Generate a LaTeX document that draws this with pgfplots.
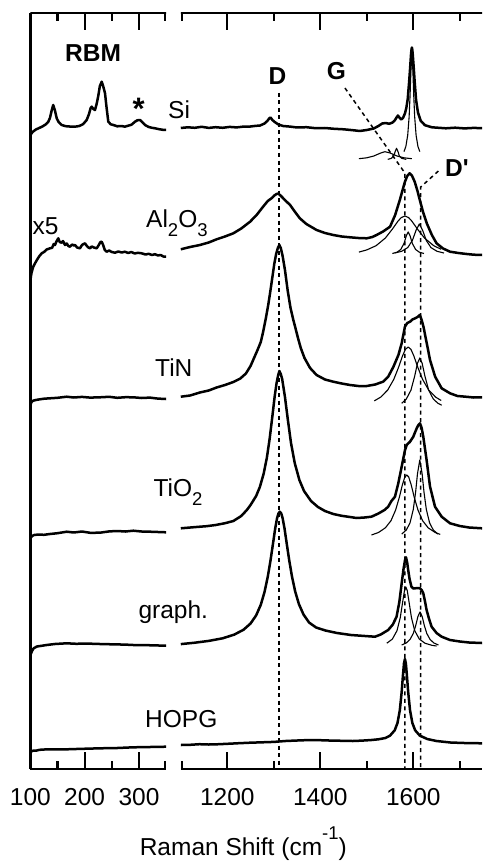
\documentclass[border=0pt]{standalone}
\usepackage{pgfplots}
\pgfplotsset{compat=1.18}
\usepackage{fontspec}
\setmainfont{Liberation Sans}
\newcommand\lab{\fontsize{24.5}{29}\selectfont}
\newcommand\subs[1]{\raisebox{-9pt}{\fontsize{18.5}{20}\selectfont #1}}
\pgfplotsset{
 spec/.style={black, line width=2.5pt, line join=round, mark=none},
 fitc/.style={black, line width=1.1pt, line join=round, mark=none},
 dsh/.style={black, line width=1.5pt, dash pattern=on 4pt off 3.5pt, mark=none},
 panel/.style={scale only axis, height=756pt, y dir=reverse, ymin=13, ymax=769,
   clip=false, hide y axis,
   axis line style={line width=2.4pt},
   major tick length=0pt, minor tick length=0pt,
   xticklabel style={font=\lab, anchor=base, yshift=-36pt}},
}
\begin{document}
\begin{tikzpicture}
\useasboundingbox (-30.4pt,-92pt) rectangle (451.6pt,769pt);
% ---------------- left panel (RBM) ----------------
\begin{axis}[panel, at={(0pt,0pt)}, anchor=south west, width=135.7pt,
  xmin=100, xmax=350,
  xtick={100,200,300}, xticklabels={100,200,300}]
\draw[line width=2.4pt] (rel axis cs:0,0) -- (rel axis cs:0,1);
% Si
\addplot[spec] coordinates {(100,135) (104,132) (110,129.5) (115,128.3) (122,126.5) (128,124.5) (133,121.7) (136,118) (139,111) (142,105) (145,110) (148.5,118.3) (152,122) (157.7,125) (165,126.2) (172,126.5) (182,126.7) (190,126) (197,124.2) (203.7,120) (208,114) (211,108) (213,106.7) (216,109) (219,110) (222,104) (225,96) (228,86) (231.4,81.7) (234,86) (237.5,93.3) (240,106) (243.5,121.7) (248,124.3) (252.8,125) (260,126.3) (268,126) (274,126.7) (280,125.7) (286,124.8) (292.7,121.7) (297,120.3) (302,120) (306,122) (311.2,125) (318,127) (324,127.8) (329.6,128.3) (337,129.2) (344,129.8) (350,130)};
% Al2O3 (x5)
\addplot[spec] coordinates {(100,280) (102,273) (105,267) (108.5,263.3) (112,260) (116,256.5) (120.8,253.3) (125,252) (130,249.5) (136,248.3) (140,247.8) (143,244) (145.3,245) (148,241.5) (151.4,238.3) (154,242) (157.7,242.7) (160,241) (163.8,245) (167,243.5) (170,246) (173,246.7) (177,244.5) (180,245.5) (182.2,245) (186,247.5) (191.4,248.3) (195,245) (198,244) (200.6,243.3) (204,246) (207,247.5) (209.8,248.3) (213,246.5) (217,247.5) (222.2,248.3) (226,245) (229,242) (231.4,241.7) (234,245) (237,250) (240.6,251.7) (245,250.5) (250,252) (255.9,252.7) (262,251.5) (268,252.5) (274.3,251.7) (280,253) (286,252) (292,253.5) (298,252.8) (305,253.3) (312,254.5) (318,253.8) (324,255) (329.6,254.2) (335,255.5) (340,255) (345,256.5) (350,256.7)};
% TiN
\addplot[spec] coordinates {(100,405) (102,402) (105,400.7) (110,400) (117.7,399.3) (125,398.7) (136,398.3) (150,397.8) (166.9,396.7) (180,397.5) (195,396.9) (210,397.6) (228,397.3) (245,396.8) (260,397.8) (275,397.2) (289.6,397.3) (305,398) (320,397.6) (335,398.6) (350,399)};
% TiO2
\addplot[spec] coordinates {(100,538.3) (103,536) (107,535) (115,534.5) (125,534.8) (136,534) (150,533.2) (166.9,531.7) (180,532.5) (195,531.5) (210,532.8) (228,532.7) (245,531.4) (260,531) (275,531.5) (289.6,530.7) (305,531.5) (320,531.7) (335,532) (350,532.3)};
% graph.
\addplot[spec] coordinates {(100,655) (103,651) (106,648.3) (112,646.5) (118,646) (130,645) (145,644) (166.9,643.3) (185,643.8) (200,643.5) (228,644) (250,644.3) (275,644.6) (289.6,645) (310,645.1) (330,645.4) (350,645.7)};
% HOPG
\addplot[spec] coordinates {(100,753.3) (102,751) (105,750.7) (110,750.7) (117,749.8) (125,749.5) (140,749.3) (166.9,749.3) (190,748.9) (228,748.3) (260,748) (289.6,747.3) (320,747) (350,746.7)};
\end{axis}
% ---------------- right panel (D, G) ----------------
\begin{axis}[panel, at={(150.4pt,0pt)}, anchor=south west, width=301.3pt,
  xmin=1100, xmax=1748,
  xtick={1200,1400,1600}, xticklabels={1200,1400,1600}]
% dashed guide lines
\addplot[dsh] coordinates {(1311,93) (1311,769)};
\addplot[dsh] coordinates {(1453,88) (1582,173) (1582,769)};
\addplot[dsh] coordinates {(1654,171) (1616,187) (1616,769)};
% Si
\addplot[spec] coordinates {(1100,128) (1115,127.3) (1130,127.8) (1145,126.8) (1160,127.9) (1175,127.2) (1190,127.8) (1205,126.9) (1220,127.4) (1235,126.6) (1250,126.5) (1262,125.8) (1270,125.6) (1280,123.5) (1286,121) (1290,118.5) (1293,117.5) (1297,120) (1302,122) (1310,124.5) (1320,126) (1335,126.6) (1350,127.5) (1370,127.2) (1390,128.2) (1410,128) (1430,128.8) (1450,129.3) (1470,130.2) (1485,131) (1500,130) (1515,128.5) (1525,126) (1533,123.5) (1541,123) (1548,123.8) (1555,122.6) (1560,120.5) (1564,117.5) (1567,115.5) (1570,117.5) (1574,119.5) (1578,117.8) (1582,113.5) (1585,108) (1588,99) (1591,82) (1593,69) (1595,55) (1596,50) (1597,47.5) (1598,50) (1599,55.5) (1601,68) (1603,82) (1606,100) (1610,112.4) (1616,120.8) (1625,125.2) (1640,127.3) (1655,127.8) (1670,128.3) (1690,127.7) (1710,128.4) (1730,127.9) (1748,128.2)};
\addplot[fitc] coordinates {(1483,158.7) (1500,157.8) (1515,156) (1530,153) (1539,151.7) (1550,153) (1565,156) (1580,157.8) (1597,158.7)};
\addplot[fitc] coordinates {(1545,159.4) (1553,158.3) (1558,155.9) (1561,151.5) (1564,148.3) (1567,151.5) (1570,155.9) (1575,158.3) (1585,159.4)};
\addplot[fitc] coordinates {(1580,151.6) (1584,146.5) (1588,135.2) (1591,117) (1593,96) (1595,69.5) (1597,55) (1599,69.5) (1601,96) (1603,117) (1606,135.2) (1610,146.5) (1614,151.6)};
% Al2O3
\addplot[spec] coordinates {(1100,249.3) (1120,247) (1141,245) (1160,242.5) (1177,239.3) (1195,236.5) (1213,233.3) (1230,228.5) (1249,221.7) (1263,215) (1277,206.7) (1287,201) (1295,198.3) (1301,195.5) (1306,194) (1310,193.5) (1317,196.7) (1325,200.5) (1335,205) (1345,211.5) (1356,218.3) (1370,224) (1392,230) (1410,233) (1428,235) (1446,236.5) (1464,237.3) (1482,238) (1500,238.3) (1512,237) (1521,235) (1535,231.5) (1550,226.7) (1561,215) (1571,200) (1577,190) (1582,181.7) (1587,176) (1592,173.3) (1597,175.5) (1603,181.7) (1609,191) (1614,200) (1621,212) (1629,223.3) (1640,235) (1650,243.3) (1664,248.5) (1679,251.7) (1697,253) (1715,254) (1730,254.7) (1748,255)};
\addplot[fitc] coordinates {(1483,252.1) (1500,249.9) (1520,245.7) (1540,238) (1555,229.1) (1567,221.2) (1574,217.6) (1582,216) (1590,217.6) (1597,221.2) (1609,229.1) (1624,238) (1644,245.7) (1660,249.3)};
\addplot[fitc] coordinates {(1555,253.5) (1565,252.2) (1573,249.5) (1580,243.5) (1585,235.8) (1589,232) (1593,235.8) (1598,243.5) (1605,249.5) (1613,252.2) (1623,253.5)};
\addplot[fitc] coordinates {(1560,253) (1575,251.3) (1588,247.6) (1598,240.5) (1606,230.2) (1613,224) (1620,230.2) (1628,240.5) (1638,247.6) (1651,251.3) (1666,253)};
% TiN
\addplot[spec] coordinates {(1100,396.7) (1120,395.5) (1141,392.5) (1160,390.5) (1177,387.5) (1195,385) (1213,382) (1228,378.5) (1240,373.5) (1250,366) (1257,358.5) (1265,350) (1272,342) (1277,332) (1283,318) (1288,305) (1292,293) (1297,277) (1301,264) (1305,254) (1309,247.5) (1312,245) (1315,248) (1319,256) (1324,270) (1330,291) (1336,308) (1342,320) (1346,327) (1352,338) (1358,348) (1366,358) (1378,368) (1392,375) (1410,379.5) (1428,381.7) (1446,383.5) (1464,385) (1482,386) (1500,386) (1518,384.5) (1535,381.7) (1546,376.7) (1557,367) (1568,355) (1575,343.3) (1582,326.7) (1587,323) (1593,321.7) (1598,319.5) (1604,318.3) (1609,317) (1614,315) (1618,320) (1622,327) (1629,343.3) (1636,360) (1647,376.7) (1661,388.3) (1679,393.3) (1695,396) (1715,396.8) (1730,397.5) (1748,397.3)};
\addplot[fitc] coordinates {(1516,400.9) (1530,397.1) (1545,390) (1558,379.4) (1568,367.7) (1577,355.7) (1583,349.4) (1589,347) (1595,349.4) (1601,355.7) (1610,367.7) (1620,379.4) (1633,390) (1648,397.1) (1660,400.5)};
\addplot[fitc] coordinates {(1575,403.3) (1585,399) (1595,390.1) (1603,376.1) (1609,363.2) (1614,358) (1619,363.2) (1625,376.1) (1633,390.1) (1643,399) (1653,403.3) (1661,405.2)};
% TiO2
\addplot[spec] coordinates {(1100,528.3) (1118,527.6) (1136,526.9) (1155,526.2) (1175,525) (1195,523.2) (1213,521) (1230,516) (1242,510) (1250,505) (1262,496) (1270,487) (1278,474) (1285,458) (1291,439) (1297,416) (1302,396) (1306,383) (1309,376) (1312,371) (1315,374) (1318,379) (1324,397) (1330,419) (1337,443) (1345,463) (1355,480) (1365,491) (1380,501) (1395,507) (1410,511) (1428,514) (1446,515.8) (1464,517) (1478,518) (1495,517.5) (1510,516.7) (1525,513.5) (1538,510) (1546,506.7) (1553,501) (1560.6,496.7) (1567.7,483.3) (1575,466.7) (1582.2,450) (1585.8,445) (1593,441.7) (1600,436.7) (1607.3,428.3) (1611,425) (1614.4,423.3) (1618,428) (1621.5,436.7) (1628.6,460) (1636,486.7) (1646.7,506.7) (1661,516.7) (1679,523.3) (1700,526) (1720,527.5) (1748,528.3)};
\addplot[fitc] coordinates {(1510,535) (1525,532.5) (1540,527.8) (1552,520.7) (1562,510) (1570,497.2) (1577,484) (1582,476.9) (1586,475) (1590,476.9) (1595,484) (1602,497.2) (1610,510) (1620,520.7) (1632,527.8) (1647,532.5) (1658,534.4)};
\addplot[fitc] coordinates {(1575,534.1) (1585,530) (1593,522.8) (1600,509.4) (1605,492.1) (1609,473.7) (1614,460) (1619,473.7) (1623,492.1) (1628,509.4) (1635,522.8) (1643,530) (1653,534.1)};
% graph.
\addplot[spec] coordinates {(1100,644.1) (1130,642.7) (1160,640.9) (1190,638.3) (1215,634.6) (1235,629.7) (1250,623.5) (1262,615.4) (1272,604.8) (1280,592.1) (1287,576.8) (1293,560.2) (1298,544.5) (1303,528.5) (1307,518.3) (1310,513.5) (1313,511.7) (1316,513.4) (1319,518.2) (1323,528.3) (1328,544.2) (1333,559.8) (1339,576.3) (1346,591.5) (1354,604.1) (1364,614.6) (1376,622.6) (1391,627.5) (1411,630.5) (1436,633) (1466,635) (1496,636) (1517.6,636.7) (1530,634.5) (1546,630) (1556,624.5) (1564,616.7) (1570,602) (1575,583.3) (1579,569) (1582.2,560) (1584.3,557.3) (1587,563) (1589,570) (1592,579) (1596,586.7) (1600,588.5) (1604,588.3) (1609,588) (1614.4,588.3) (1618,590) (1621.5,593.3) (1625,601) (1628.6,610) (1634,619) (1639.4,626.7) (1650,633) (1661,636.7) (1679,640) (1700,641.5) (1720,642.5) (1748,643)};
\addplot[fitc] coordinates {(1543,643.2) (1555,639.1) (1565,630.6) (1572,617.5) (1577,602.4) (1581,590.6) (1584,587) (1587,590.6) (1591,602.4) (1596,617.5) (1603,630.6) (1613,639.1) (1625,643.2) (1640,645.3) (1650,646)};
\addplot[fitc] coordinates {(1575,645) (1585,642.9) (1593,639.4) (1600,633.4) (1605,625.9) (1610,616.4) (1614.5,612) (1619,616.4) (1624,625.9) (1629,633.4) (1636,639.4) (1644,642.9) (1654,645)};
% HOPG
\addplot[spec] coordinates {(1100,745) (1120,744.8) (1140,744.2) (1160,744.5) (1177,744.3) (1200,743.8) (1225,743.2) (1249,742.7) (1275,742.3) (1300,741.9) (1325,741) (1350,740.5) (1378,740) (1400,740.2) (1425,740.6) (1450,740.8) (1470,741) (1490,740.6) (1510,740) (1525,739.3) (1540,738) (1550,735.6) (1560,730.3) (1566,723) (1571,710.3) (1575,692) (1578,673.9) (1580,663.3) (1582,659) (1584,663.3) (1586,673.9) (1589,692) (1593,710.3) (1598,723) (1604,730.3) (1614,735.6) (1630,739) (1650,741) (1680,742.5) (1710,743) (1748,743.3)};
\end{axis}
% ---------------- ticks (plain tikz, picture coordinates in pt; origin = lower left of left axis) ----------------
\draw[black, line width=2.3pt] (54.3pt,0pt) -- (54.3pt,17pt);
\draw[black, line width=2.3pt] (108.6pt,0pt) -- (108.6pt,17pt);
\draw[black, line width=2.3pt] (196.9pt,0pt) -- (196.9pt,17pt);
\draw[black, line width=2.3pt] (289.9pt,0pt) -- (289.9pt,17pt);
\draw[black, line width=2.3pt] (382.9pt,0pt) -- (382.9pt,17pt);
\draw[black, line width=2.3pt] (54.3pt,756pt) -- (54.3pt,739pt);
\draw[black, line width=2.3pt] (108.6pt,756pt) -- (108.6pt,739pt);
\draw[black, line width=2.3pt] (196.9pt,756pt) -- (196.9pt,739pt);
\draw[black, line width=2.3pt] (289.9pt,756pt) -- (289.9pt,739pt);
\draw[black, line width=2.3pt] (382.9pt,756pt) -- (382.9pt,739pt);
\draw[black, line width=2.3pt] (27.2pt,0pt) -- (27.2pt,8pt);
\draw[black, line width=2.3pt] (81.4pt,0pt) -- (81.4pt,8pt);
\draw[black, line width=2.3pt] (134.6pt,0pt) -- (134.6pt,8pt);
\draw[black, line width=2.3pt] (151.6pt,0pt) -- (151.6pt,8pt);
\draw[black, line width=2.3pt] (243.4pt,0pt) -- (243.4pt,8pt);
\draw[black, line width=2.3pt] (336.4pt,0pt) -- (336.4pt,8pt);
\draw[black, line width=2.3pt] (429.4pt,0pt) -- (429.4pt,8pt);
\draw[black, line width=2.3pt] (27.2pt,756pt) -- (27.2pt,748pt);
\draw[black, line width=2.3pt] (81.4pt,756pt) -- (81.4pt,748pt);
\draw[black, line width=2.3pt] (134.6pt,756pt) -- (134.6pt,748pt);
\draw[black, line width=2.3pt] (151.6pt,756pt) -- (151.6pt,748pt);
\draw[black, line width=2.3pt] (243.4pt,756pt) -- (243.4pt,748pt);
\draw[black, line width=2.3pt] (336.4pt,756pt) -- (336.4pt,748pt);
\draw[black, line width=2.3pt] (429.4pt,756pt) -- (429.4pt,748pt);
% ---------------- labels (image pixel coordinates) ----------------
\begin{scope}[x=1pt, y=-1pt, xshift=-30.4pt, yshift=769pt]
\node[anchor=base west, inner sep=0] at (65,62) {\lab\bfseries RBM};
\node[anchor=base west, inner sep=0] at (132.5,120) {\fontsize{31}{34}\selectfont\bfseries *};
\node[anchor=base west, inner sep=0] at (168,118.3) {\lab Si};
\node[anchor=base west, inner sep=0] at (32.5,235) {\lab x5};
\node[anchor=base west, inner sep=0] at (146,228) {\lab Al\subs{2}O\subs{3}};
\node[anchor=base west, inner sep=0] at (155,376.7) {\lab TiN};
\node[anchor=base west, inner sep=0] at (153.3,497) {\lab TiO\subs{2}};
\node[anchor=base west, inner sep=0] at (138.3,618.5) {\lab graph.};
\node[anchor=base west, inner sep=0] at (145,728) {\lab HOPG};
\node[anchor=base, inner sep=0] at (277.5,85) {\lab\bfseries D};
\node[anchor=base west, inner sep=0] at (326.7,79.5) {\lab\bfseries G};
\node[anchor=base west, inner sep=0] at (445,176.7) {\lab\bfseries D\textquotesingle};
\node[anchor=base, inner sep=0] at (243.3,855) {\lab Raman Shift (cm\raisebox{16pt}{\fontsize{18.5}{20}\selectfont -1})};
\end{scope}
\end{tikzpicture}
\end{document}
